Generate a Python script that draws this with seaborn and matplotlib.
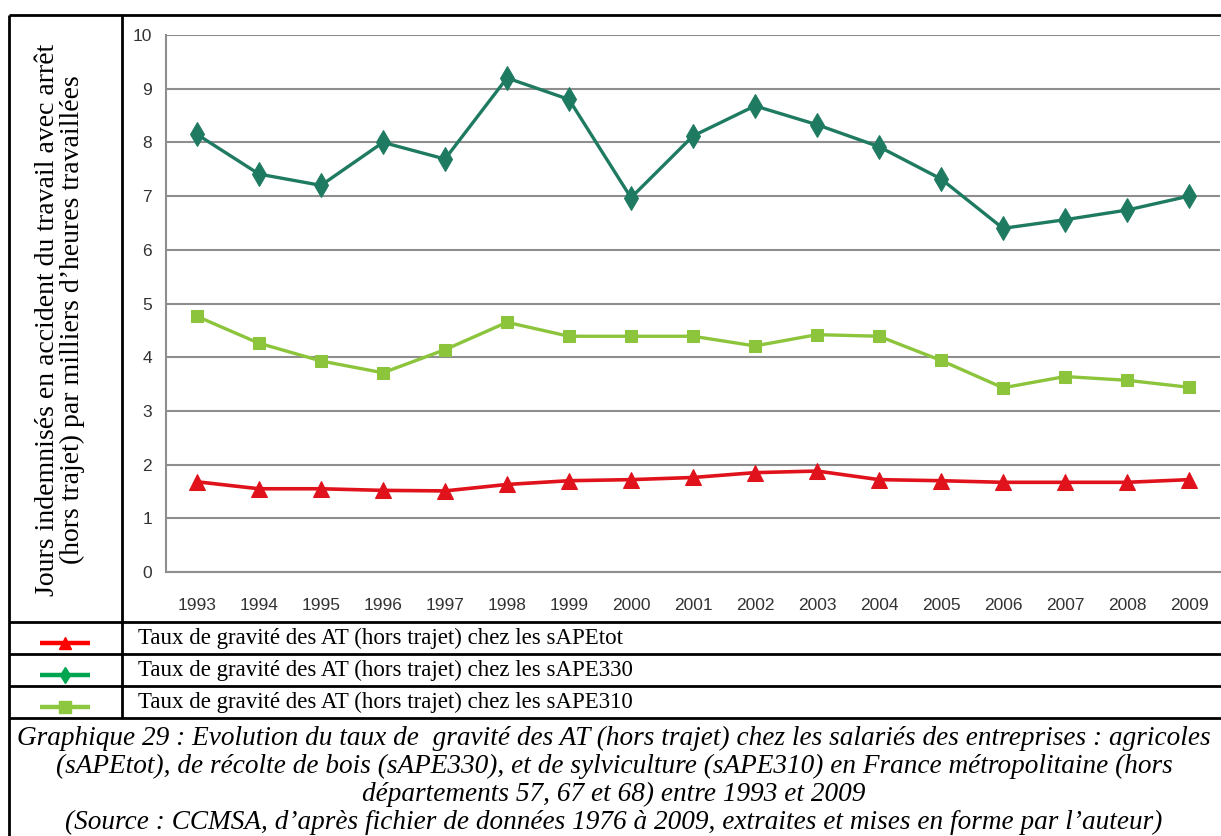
import matplotlib
matplotlib.use("Agg")
import matplotlib.pyplot as plt
import seaborn as sns
import pandas as pd
from matplotlib import font_manager as fm
from matplotlib.lines import Line2D

# ---------------- data ----------------
years = list(range(1993, 2010))
s_tot = [1.68, 1.55, 1.55, 1.52, 1.51, 1.63, 1.70, 1.72, 1.76, 1.85, 1.88, 1.72, 1.70, 1.67, 1.67, 1.67, 1.72]
s_330 = [8.15, 7.41, 7.20, 8.00, 7.69, 9.20, 8.80, 6.97, 8.12, 8.68, 8.33, 7.92, 7.32, 6.40, 6.56, 6.74, 7.00]
s_310 = [4.76, 4.26, 3.93, 3.71, 4.14, 4.65, 4.39, 4.39, 4.39, 4.21, 4.42, 4.39, 3.94, 3.43, 3.64, 3.57, 3.44]
y_ticks = list(range(0, 11))
series_labels = [
    "Taux de gravité des AT (hors trajet) chez les sAPEtot",
    "Taux de gravité des AT (hors trajet) chez les sAPE330",
    "Taux de gravité des AT (hors trajet) chez les sAPE310",
]
ylabel_lines = [
    "Jours indemnisés en accident du travail avec arrêt",
    "(hors trajet) par milliers d\u2019heures travaillées",
]
caption_lines = [
    "Graphique 29 : Evolution du taux de  gravité des AT (hors trajet) chez les salariés des entreprises : agricoles",
    "(sAPEtot), de récolte de bois (sAPE330), et de sylviculture (sAPE310) en France métropolitaine (hors",
    "départements 57, 67 et 68) entre 1993 et 2009",
    "(Source : CCMSA, d\u2019après fichier de données 1976 à 2009, extraites et mises en forme par l\u2019auteur)",
]

# ---------------- style ----------------
sns.set_theme(style="white")
names = {f.name for f in fm.fontManager.ttflist}
narrow = "Liberation Sans Narrow" in names
tick_family = ["Liberation Sans Narrow"] if narrow else ["Liberation Sans"]
tick_size = 14 if narrow else 12.5
serif = ["Liberation Serif", "DejaVu Serif"]
plt.rcParams["font.family"] = ["Liberation Sans", "DejaVu Sans"]

W, H = 1221, 836
fig = plt.figure(figsize=(W / 100, H / 100), dpi=100)
fig.patch.set_facecolor("white")


def fx(px):
    return px / W


def fy(py):
    return 1 - py / H


# chart axes
ax = fig.add_axes([fx(166), fy(572), fx(1220) - fx(166), fy(35) - fy(572)])
ax.set_facecolor("white")

c_tot, c_330, c_310 = "#e0121b", "#1e7a61", "#8cc43c"
sns.lineplot(x=years, y=s_330, ax=ax, color=c_330, lw=2.4, marker="d", markersize=12,
             markeredgecolor=c_330, zorder=4)
sns.lineplot(x=years, y=s_310, ax=ax, color=c_310, lw=2.4, marker="s", markersize=9,
             markeredgecolor=c_310, zorder=4)
sns.lineplot(x=years, y=s_tot, ax=ax, color=c_tot, lw=2.6, marker="^", markersize=11,
             markeredgecolor=c_tot, zorder=4)

ax.set_xlim(1992.5, 2009.5)
ax.set_ylim(0, 10)
ax.set_yticks(y_ticks)
ax.set_xticks(years)
ax.set_xticklabels([str(y) for y in years])
ax.yaxis.grid(True, color="#8e8e8e", lw=1.5)
ax.xaxis.grid(False)
for s in ["top", "right"]:
    ax.spines[s].set_visible(False)
for s in ["left", "bottom"]:
    ax.spines[s].set_color("#8e8e8e")
    ax.spines[s].set_linewidth(1.5)
ax.tick_params(axis="both", length=0, labelsize=tick_size, labelcolor="#333333")
ax.tick_params(axis="y", pad=10)
ax.tick_params(axis="x", pad=19)
for lab in ax.get_xticklabels() + ax.get_yticklabels():
    lab.set_family(tick_family)
ax.set_xlabel("")
ax.set_ylabel("")

# overlay for table frame and texts (pixel coordinates)
ov = fig.add_axes([0, 0, 1, 1], zorder=10)
ov.set_xlim(0, W)
ov.set_ylim(H, 0)
ov.axis("off")
ov.patch.set_alpha(0)

lw_box = 2.0
ov.plot([9, W], [15, 15], color="black", lw=lw_box, solid_capstyle="butt")
ov.plot([9, 9], [15, H], color="black", lw=lw_box, solid_capstyle="butt")
ov.plot([122, 122], [15, 718], color="black", lw=lw_box, solid_capstyle="butt")
for yy in [622, 654, 686, 718]:
    ov.plot([9, W], [yy, yy], color="black", lw=lw_box, solid_capstyle="butt")

# y label (two lines, rotated)
ov.text(48, 320, ylabel_lines[0], rotation=90, ha="center", va="center",
        fontsize=20, family=serif, color="black")
ov.text(72, 320, ylabel_lines[1], rotation=90, ha="center", va="center",
        fontsize=20, family=serif, color="black")

# legend rows
leg_cols = ["#ff0000", "#00a54f", "#8dc63f"]
leg_marks = ["^", "d", "s"]
leg_ms = [9, 8, 9]
row_y = [638, 670, 702]
for i in range(3):
    ly = row_y[i] + 5
    ov.add_line(Line2D([40, 90], [ly, ly], color=leg_cols[i], lw=3.2, solid_capstyle="butt"))
    ov.add_line(Line2D([65], [ly], color=leg_cols[i], marker=leg_marks[i],
                       markersize=leg_ms[i], markeredgecolor=leg_cols[i], lw=0))
    ov.text(138, row_y[i], series_labels[i], ha="left", va="center",
            fontsize=16.5, family=serif, color="black")

# caption
cap_y = [738, 766, 794, 822]
for yy, line in zip(cap_y, caption_lines):
    ov.text(614, yy, line, ha="center", va="center", fontsize=19.6,
            family=serif, style="italic", color="black")

fig.savefig("out.png", dpi=100, facecolor="white")
